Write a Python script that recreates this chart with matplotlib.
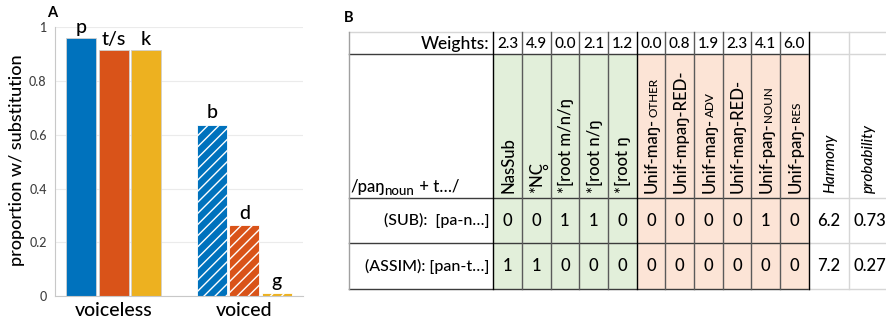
import matplotlib.pyplot as plt
from matplotlib.patches import Rectangle
import numpy as np

plt.rcParams['font.family'] = ['Lato', 'DejaVu Sans']
plt.rcParams['font.weight'] = 'medium'
plt.rcParams['hatch.linewidth'] = 1.0

# ---- panel A data
groups = ['voiceless', 'voiced']
voiceless_labels = ['p', 't/s', 'k']
voiced_labels = ['b', 'd', 'g']
voiceless_vals = [0.961, 0.914, 0.914]
voiced_vals = [0.638, 0.263, 0.01]
bar_colors = ['#0072BD', '#D95319', '#EDB120']

# ---- panel B data
weights = [2.3, 4.9, 0.0, 2.1, 1.2, 0.0, 0.8, 1.9, 2.3, 4.1, 6.0]
constraints = [('NasSub', ''), ('*NC', ''), ('*[root m/n/ŋ', ''),
               ('*[root n/ŋ', ''), ('*[root ŋ', ''),
               ('Unif-maŋ-', 'OTHER'), ('Unif-mpaŋ-RED-', ''),
               ('Unif-maŋ-', 'ADV'), ('Unif-maŋ-RED-', ''),
               ('Unif-paŋ-', 'NOUN'), ('Unif-paŋ-', 'RES')]
n_markedness = 5
candidates = ['(SUB):  [pa-n…]', '(ASSIM): [pan-t…]']
violations = [[0, 0, 1, 1, 0, 0, 0, 0, 0, 1, 0],
              [1, 1, 0, 0, 0, 0, 0, 0, 0, 0, 0]]
harmony = [6.2, 7.2]
probability = [0.73, 0.27]

fig = plt.figure(figsize=(8.87, 3.19), dpi=100)

# overlay in pixel coords for the table and free text
tab = fig.add_axes([0, 0, 1, 1])
tab.set_xlim(0, 887)
tab.set_ylim(319, 0)
tab.axis('off')

# ---------------- panel A
ax = fig.add_axes([55 / 887, 23 / 319, 248 / 887, 268.7 / 319])
off, w = 0.248, 0.229
for i in range(3):
    ax.bar((i - 1) * off, voiceless_vals[i], w, color=bar_colors[i],
           edgecolor='#d0d0d0', lw=0.6, zorder=2)
    ax.annotate(voiceless_labels[i], ((i - 1) * off, voiceless_vals[i]),
                xytext=(0, 1.5), textcoords='offset points', ha='center',
                va='bottom', fontsize=14, annotation_clip=False)
    ax.bar(1 + (i - 1) * off, voiced_vals[i], w, color=bar_colors[i],
           edgecolor='white', hatch='///', lw=0.6, zorder=2)
    ax.annotate(voiced_labels[i], (1 + (i - 1) * off, voiced_vals[i]),
                xytext=(0, 2.5), textcoords='offset points', ha='center',
                va='bottom', fontsize=14, annotation_clip=False)

ax.set_xlim(-0.447, 1.447)
ax.set_ylim(0, 1)
ax.set_yticks([0, 0.2, 0.4, 0.6, 0.8, 1])
ax.set_yticklabels(['0', '0.2', '0.4', '0.6', '0.8', '1'])
ax.set_xticks([0, 1])
ax.set_xticklabels(groups)
ax.tick_params(axis='y', length=0, pad=6, labelsize=9, labelcolor='#404040')
ax.tick_params(axis='x', length=0, pad=4, labelsize=14)
ax.yaxis.grid(True, color='#ebebeb', lw=0.8)
ax.set_axisbelow(True)
for s in ['top', 'right']:
    ax.spines[s].set_visible(False)
for s in ['left', 'bottom']:
    ax.spines[s].set_color('#c8c8c8')
ax.patch.set_alpha(0)

tab.text(17, 160, 'proportion w/ substitution', rotation=90, ha='center',
         va='center', fontsize=13)
tab.text(52, 13, 'A', weight='bold', fontsize=10.5, ha='center', va='center')

# ---------------- panel B
tab.text(349, 18, 'B', weight='bold', fontsize=10.5, ha='center', va='center')

x_left, x_lab = 349.3, 493.3
cw = (808.7 - 493.3) / 11
col_edges = [x_lab + i * cw for i in range(12)]
x_harm, x_prob, x_end = 808.7, 849.3, 894
y_top, y_w, y_head, y_sub, y_bot = 32.3, 54.3, 197.7, 243.3, 289.3

for i in range(11):
    fc = '#E2EFDA' if i < n_markedness else '#FCE4D6'
    tab.add_patch(Rectangle((col_edges[i], y_w), cw, y_bot - y_w, fc=fc, ec='none'))

light, dark = '#d6d6d6', '#3c3c3c'
tab.plot([x_left, x_end], [y_top, y_top], color=light, lw=1)
for y in [y_w, y_head, y_sub, y_bot]:
    tab.plot([x_left, x_harm], [y, y], color=dark, lw=1)
    tab.plot([x_harm, x_end], [y, y], color=light, lw=1)
tab.plot([x_left, x_left], [y_top, y_bot], color='#a0a0a0', lw=1)
for i, x in enumerate(col_edges):
    c = '#000000' if i in (0, n_markedness, 11) else '#5a5a5a'
    tab.plot([x, x], [y_top, y_bot], color=c, lw=1)
tab.plot([x_prob, x_prob], [y_top, y_bot], color=light, lw=1)

renderer = fig.canvas.get_renderer()

tab.text(x_lab - 4, 43.5, 'Weights:', ha='right', va='center', fontsize=12.5)
for i, wt in enumerate(weights):
    xc = col_edges[i] + cw / 2
    tab.text(xc, 44.5, f'{wt:.1f}', ha='center', va='center', fontsize=11)
    main, small = constraints[i]
    t = tab.text(xc + 6, 193, main, rotation=90, rotation_mode='anchor',
                 ha='left', va='baseline', fontsize=12)
    bb = t.get_window_extent(renderer)
    if small:
        tab.text(xc + 6, 319 - bb.y1 - 0.5, small, rotation=90,
                 rotation_mode='anchor', ha='left', va='baseline', fontsize=8.5)
    if main == '*NC':
        # ring below the C (voiceless diacritic)
        tab.plot(xc + 9, 319 - bb.y1 + 4.5, marker='o', ms=3, mfc='none',
                 mec='black', mew=0.8)

tab.text((x_harm + x_prob) / 2 + 5, 193, 'Harmony', rotation=90,
         rotation_mode='anchor', ha='left', va='baseline', fontsize=11,
         style='italic')
tab.text((x_prob + x_end) / 2 + 1, 193, 'probability', rotation=90,
         rotation_mode='anchor', ha='left', va='baseline', fontsize=11,
         style='italic')

# input row label /paŋ_noun + t…/
t1 = tab.text(350, 192, '/paŋ', ha='left', va='baseline', fontsize=12)
x1 = t1.get_window_extent(renderer).x1
t2 = tab.text(x1, 195, 'noun', ha='left', va='baseline', fontsize=9.5)
x2 = t2.get_window_extent(renderer).x1
tab.text(x2 + 1, 192, ' + t…/', ha='left', va='baseline', fontsize=12)

row_y = [(y_head + y_sub) / 2, (y_sub + y_bot) / 2]
for r in range(2):
    tab.text(x_lab - 4, row_y[r], candidates[r], ha='right', va='center',
             fontsize=11.5)
    for i, v in enumerate(violations[r]):
        tab.text(col_edges[i] + cw / 2, row_y[r], str(v), ha='center',
                 va='center', fontsize=12)
    tab.text((x_harm + x_prob) / 2, row_y[r], f'{harmony[r]:.1f}',
             ha='center', va='center', fontsize=12)
    tab.text((x_prob + x_end) / 2 - 2, row_y[r], f'{probability[r]:.2f}',
             ha='center', va='center', fontsize=12)

fig.savefig('out.png', dpi=100)
